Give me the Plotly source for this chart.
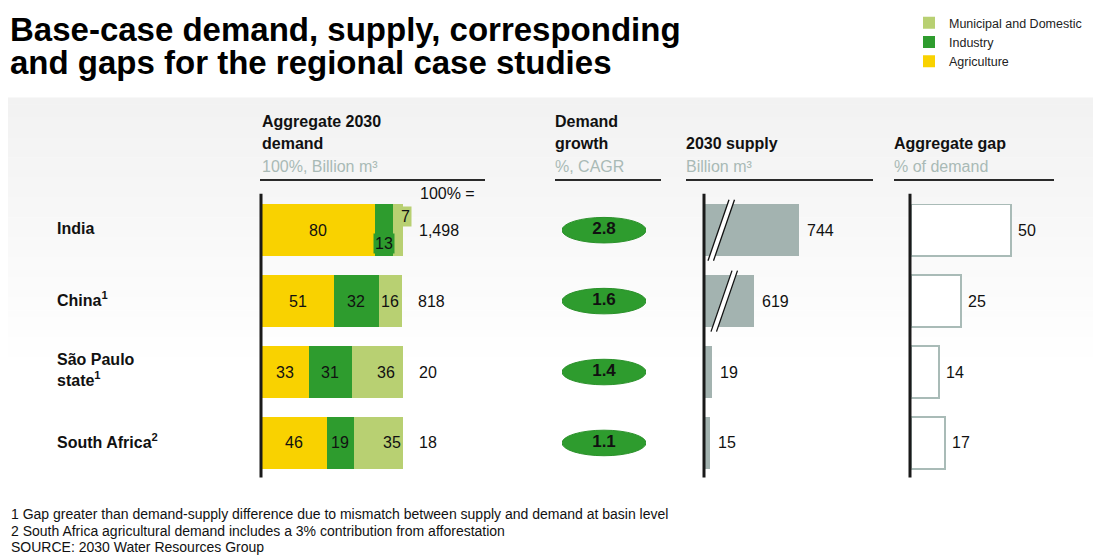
import plotly.graph_objects as go

# page body adds an 8px margin, so the figure is sized to fill the rest of the window
PAGE_OFF = 8
W, H = 1101 - PAGE_OFF, 555 - PAGE_OFF

# ---------------- data ----------------
regions = ["India", "China", "São Paulo state", "South Africa"]
region_labels = ["<b>India</b>", "<b>China<sup>1</sup></b>",
                 "<b>São Paulo<br>state<sup>1</sup></b>", "<b>South Africa<sup>2</sup></b>"]
agriculture = [80, 51, 33, 46]
industry = [13, 32, 31, 19]
municipal = [7, 16, 36, 35]
total_demand = ["1,498", "818", "20", "18"]
growth = ["2.8", "1.6", "1.4", "1.1"]
supply = [744, 619, 19, 15]
supply_broken = [True, True, False, False]
gap = [50, 25, 14, 17]
footnotes = [
    "1 Gap greater than demand-supply difference due to mismatch between supply and demand at basin level",
    "2 South Africa agricultural demand includes a 3% contribution from afforestation",
    "SOURCE: 2030 Water Resources Group",
]

# ---------------- style ----------------
FONT = "Liberation Sans, Arial, sans-serif"
C_AGR, C_IND, C_MUN = "#f9d200", "#2e9c2e", "#b8d072"
C_SUP, C_GAP = "#a3b3b0", "#a9bbb7"
C_SUB = "#a9bab6"
SUPPLY_CUT = 483  # axis break offset for very large supply values
rows = list(range(len(regions)))


def px(x):
    return (x - PAGE_OFF) / W


def py(y):
    return 1 - (y - PAGE_OFF) / H


fig = go.Figure()

# demand stacked bars
for name, vals, col in [("Agriculture", agriculture, C_AGR),
                        ("Industry", industry, C_IND),
                        ("Municipal and Domestic", municipal, C_MUN)]:
    fig.add_trace(go.Bar(y=rows, x=vals, name=name, orientation="h", marker=dict(color=col, line_width=0),
                         width=0.73, xaxis="x", yaxis="y", hoverinfo="x+name"))

# growth text
fig.add_trace(go.Scatter(x=[0.5] * 4, y=rows, mode="text", text=growth, texttemplate="<b>%{text}</b>",
                         textfont=dict(family=FONT, size=17, color="#111"), xaxis="x2", yaxis="y",
                         showlegend=False, hoverinfo="skip"))

# supply bars (broken scale for large values)
sup_disp = [v - SUPPLY_CUT if b else v for v, b in zip(supply, supply_broken)]
fig.add_trace(go.Bar(y=rows, x=sup_disp, orientation="h", marker=dict(color=C_SUP, line_width=0),
                     width=0.73, xaxis="x3", yaxis="y", showlegend=False, customdata=supply,
                     hovertemplate="%{customdata}<extra></extra>"))

# gap bars
fig.add_trace(go.Bar(y=rows, x=gap, orientation="h", marker=dict(color="white", line=dict(color=C_GAP, width=1.5)),
                     width=0.73, xaxis="x4", yaxis="y", showlegend=False))

shapes = []
# gradient panel background
N = 40
top, bot = 89, 360
for k in range(N):
    y0 = top + (bot - top) * k / N
    y1 = top + (bot - top) * (k + 1) / N
    g = int(242 + (255 - 242) * k / (N - 1))
    shapes.append(dict(type="rect", xref="paper", yref="paper", x0=px(8), x1=1, y0=py(y1 + 0.5), y1=py(y0),
                       fillcolor=f"rgb({g},{g},{g})", line_width=0, layer="below"))

# vertical axis lines
for xx in [261, 704, 910]:
    shapes.append(dict(type="line", xref="paper", yref="paper", x0=px(xx), x1=px(xx), y0=py(187), y1=py(476),
                       line=dict(color="#1a1a1a", width=3)))
# header underlines
for x0, x1 in [(260, 485), (555, 661), (686, 873), (894, 1054)]:
    shapes.append(dict(type="line", xref="paper", yref="paper", x0=px(x0), x1=px(x1), y0=py(173), y1=py(173),
                       line=dict(color="#2a2a2a", width=2)))

# growth ellipses
for i in rows:
    shapes.append(dict(type="circle", xref="x2", yref="y", x0=0, x1=1, y0=i - 0.18, y1=i + 0.18,
                       fillcolor=C_IND, line=dict(color="#2a902a", width=1), layer="below"))

# axis break marks
U = 1 / 0.36  # supply units per pixel
for i in rows:
    if supply_broken[i]:
        xb0, xb1, w = 3 * U + i * 3 * U, 24 * U + i * 3 * U, 5.5 * U
        ya, yb = i + 0.43, i - 0.43
        shapes.append(dict(type="path", xref="x3", yref="y",
                           path=f"M{xb0},{ya} L{xb1},{yb} L{xb1 + w},{yb} L{xb0 + w},{ya} Z",
                           fillcolor="white", line_width=0))
        for off in (0, w):
            shapes.append(dict(type="line", xref="x3", yref="y", x0=xb0 + off, x1=xb1 + off, y0=ya, y1=yb,
                               line=dict(color="#111", width=1.3)))

ann = []


def text(x, y, s, size=16, color="#111", xanchor="left", yanchor="middle", xref="paper", yref="paper", **kw):
    ann.append(dict(x=x, y=y, text=s, xref=xref, yref=yref, xanchor=xanchor, yanchor=yanchor, showarrow=False,
                    font=dict(family=FONT, size=size, color=color), align="left", **kw))


# title
text(px(8), py(20), "<b>Base-case demand, supply, corresponding</b>", size=33, color="#000")
text(px(8), py(53), "<b>and gaps for the regional case studies</b>", size=33, color="#000")

# headers
text(px(260), py(113), "<b>Aggregate 2030</b>")
text(px(260), py(136), "<b>demand</b>")
text(px(260), py(159), "100%, Billion m³", color=C_SUB)
text(px(553), py(113), "<b>Demand</b>")
text(px(553), py(136), "<b>growth</b>")
text(px(553), py(159), "%, CAGR", color=C_SUB)
text(px(684), py(136), "<b>2030 supply</b>")
text(px(684), py(159), "Billion m³", color=C_SUB)
text(px(892), py(136), "<b>Aggregate gap</b>")
text(px(892), py(159), "% of demand", color=C_SUB)
text(px(418), py(187), "100% =")

# row labels
for i in rows:
    text(px(55), i, region_labels[i], yref="y", yshift=2)

# segment labels
offsets = {(0, 1): (0, -13), (0, 2): (7, 14), (2, 2): (8, 0), (3, 2): (14, 0)}
segs = [(agriculture, C_AGR), (industry, C_IND), (municipal, C_MUN)]
for i in rows:
    start = 0
    for j, (vals, col) in enumerate(segs):
        v = vals[i]
        dx, dy = offsets.get((i, j), (0, 0))
        ann.append(dict(x=start + v / 2, y=i, xref="x", yref="y", text=str(v), showarrow=False,
                        xshift=dx, yshift=dy, bgcolor=col, borderpad=1,
                        font=dict(family=FONT, size=16, color="#111")))
        start += v
    text(sum(v[i] for v, _ in segs), i, total_demand[i], xref="x", yref="y", xshift=14)

# supply labels
for i in rows:
    text(sup_disp[i], i, f"{supply[i]:,}", xref="x3", yref="y", xshift=6)
# gap labels
for i in rows:
    text(gap[i], i, str(gap[i]), xref="x4", yref="y", xshift=5)

# footnotes
for k, (s, yy) in enumerate(zip(footnotes, [513, 531, 547])):
    text(px(9), py(yy), s, size=14)

ax_common = dict(visible=False, fixedrange=True)
fig.update_layout(
    width=W, height=H, margin=dict(l=0, r=0, t=0, b=0),
    paper_bgcolor="white", plot_bgcolor="rgba(0,0,0,0)",
    barmode="stack", bargap=0.27,
    font=dict(family=FONT, color="#111"),
    xaxis=dict(domain=[px(262), px(403)], range=[0, 100], anchor="y", **ax_common),
    xaxis2=dict(domain=[px(562), px(646)], range=[0, 1], anchor="y", **ax_common),
    xaxis3=dict(domain=[px(705), px(873)], range=[0, 168 / 0.36], anchor="y", **ax_common),
    xaxis4=dict(domain=[px(911), px(1055)], range=[0, 72], anchor="y", **ax_common),
    yaxis=dict(domain=[py(477), py(188)], range=[3.5, -0.5], **ax_common),
    legend=dict(x=px(909), y=py(-2), xanchor="left", yanchor="top", traceorder="reversed",
                font=dict(family=FONT, size=12.5, color="#222"), bgcolor="rgba(0,0,0,0)",
                itemclick=False, itemdoubleclick=False, tracegroupgap=0),
    shapes=shapes, annotations=ann,
)

fig.write_html("out.html")
